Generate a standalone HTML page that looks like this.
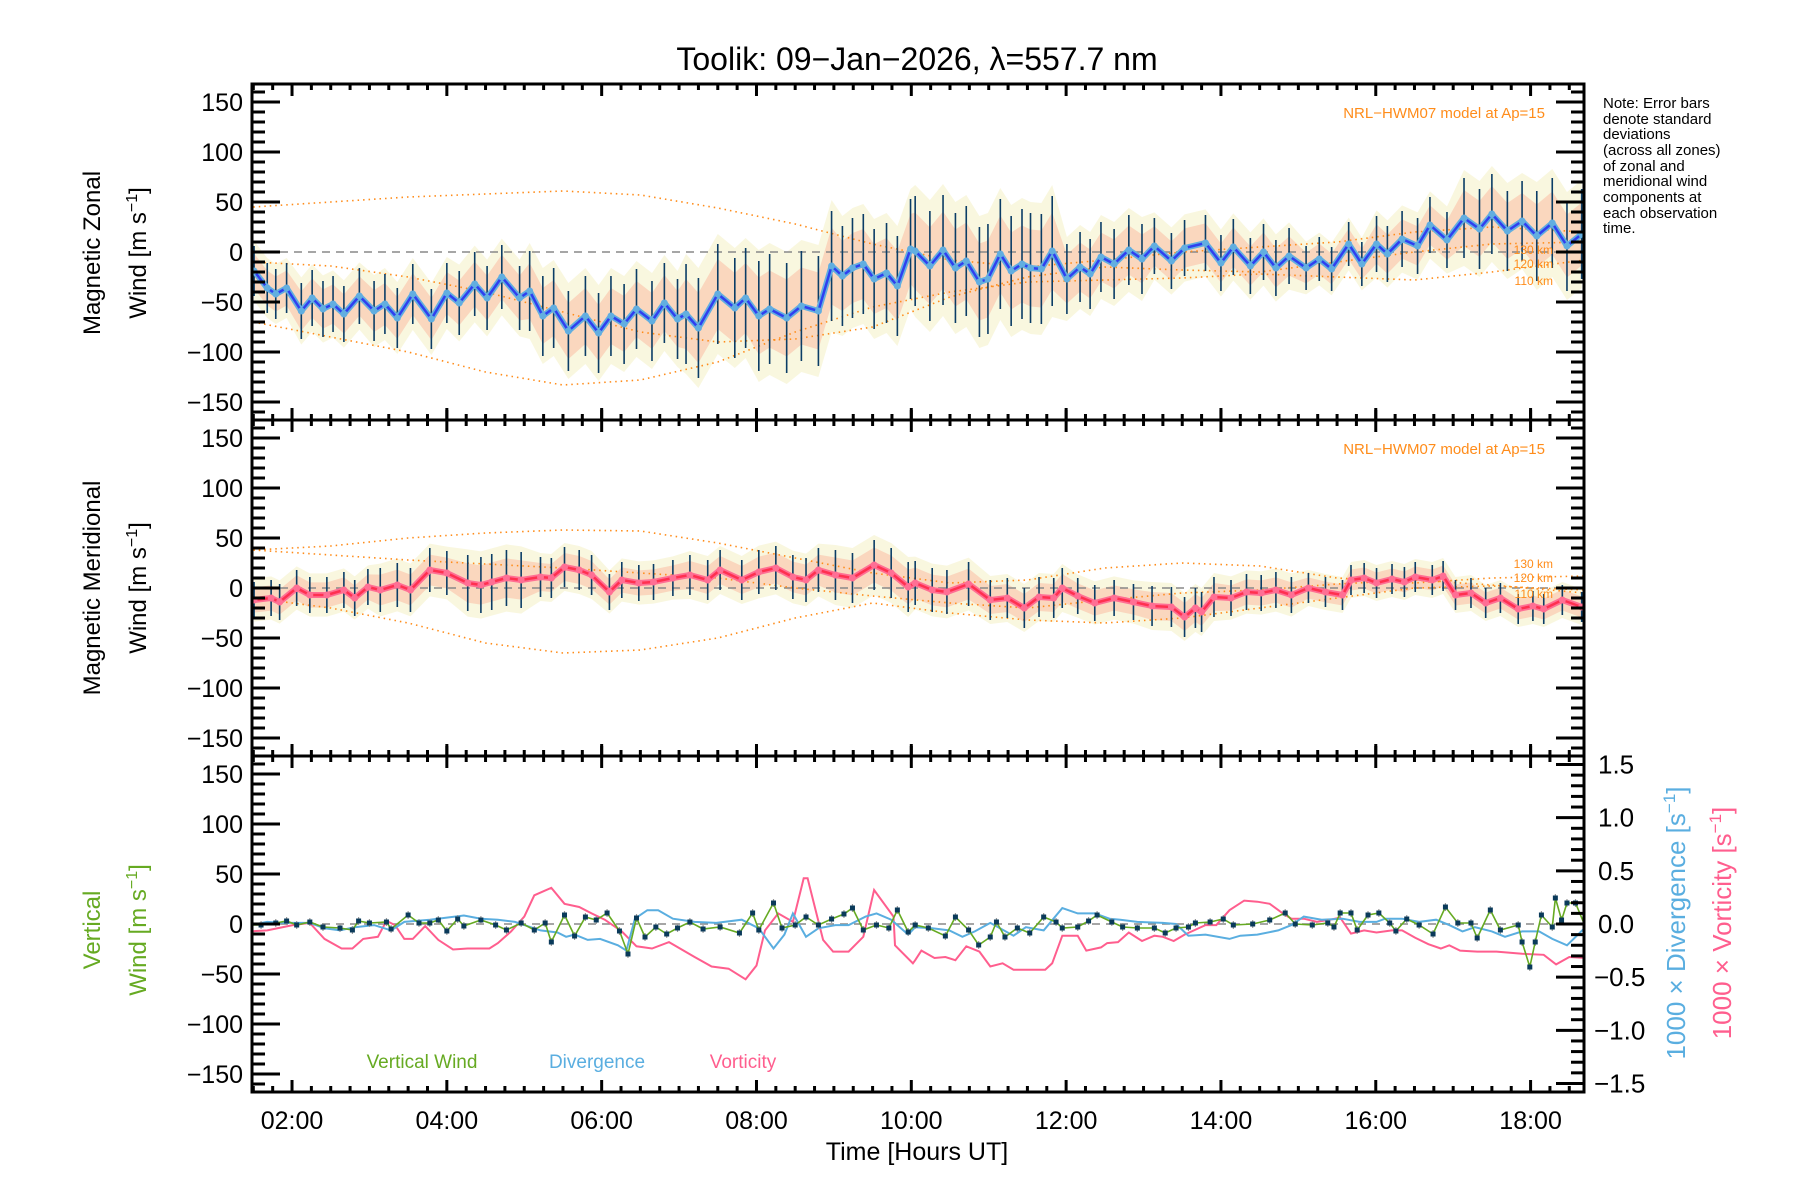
<!DOCTYPE html>
<html><head><meta charset="utf-8"><title>Toolik winds</title>
<style>
html,body{margin:0;padding:0;background:#fff;}
svg{display:block;font-family:"Liberation Sans",sans-serif;}
</style></head>
<body>
<svg id="chart" xmlns="http://www.w3.org/2000/svg" width="1800" height="1200" viewBox="0 0 1800 1200">
<rect x="0" y="0" width="1800" height="1200" fill="#fff"/>
<text x="917" y="70" font-size="32" text-anchor="middle">Toolik: 09−Jan−2026, λ=557.7 nm</text>
<g id="marks"></g>
<g id="axes"></g>
<text x="917" y="1160" font-size="25" text-anchor="middle">Time [Hours UT]</text>
<g font-size="15">
<text x="1603" y="108">Note: Error bars</text>
<text x="1603" y="124">denote standard</text>
<text x="1603" y="139">deviations</text>
<text x="1603" y="155">(across all zones)</text>
<text x="1603" y="171">of zonal and</text>
<text x="1603" y="186">meridional wind</text>
<text x="1603" y="202">components at</text>
<text x="1603" y="218">each observation</text>
<text x="1603" y="233">time.</text>
</g>
<g font-size="24" text-anchor="middle">
<text transform="translate(100,253) rotate(-90)">Magnetic Zonal</text>
<text transform="translate(146,253) rotate(-90)">Wind [m s<tspan dy="-9" font-size="16">−1</tspan><tspan dy="9">]</tspan></text>
</g>
<g font-size="24" text-anchor="middle">
<text transform="translate(100,588) rotate(-90)">Magnetic Meridional</text>
<text transform="translate(146,588) rotate(-90)">Wind [m s<tspan dy="-9" font-size="16">−1</tspan><tspan dy="9">]</tspan></text>
</g>
<g font-size="24" text-anchor="middle" fill="#66aa22">
<text transform="translate(100,930) rotate(-90)">Vertical</text>
<text transform="translate(146,930) rotate(-90)">Wind [m s<tspan dy="-9" font-size="16">−1</tspan><tspan dy="9">]</tspan></text>
</g>
<text transform="translate(1685,923) rotate(-90)" font-size="26" text-anchor="middle" fill="#5aaee0">1000 × Divergence [s<tspan dy="-10" font-size="17">−1</tspan><tspan dy="10">]</tspan></text>
<text transform="translate(1731,923) rotate(-90)" font-size="26" text-anchor="middle" fill="#ff5e8e">1000 × Vorticity [s<tspan dy="-10" font-size="17">−1</tspan><tspan dy="10">]</tspan></text>
<text x="1545" y="118" font-size="15" text-anchor="end" fill="#ff8c1a">NRL−HWM07 model at Ap=15</text>
<text x="1545" y="454" font-size="15" text-anchor="end" fill="#ff8c1a">NRL−HWM07 model at Ap=15</text>
<g font-size="12" fill="#ff8c1a" text-anchor="end">
<text x="1553" y="254">130 km</text><text x="1553" y="268">120 km</text><text x="1553" y="285">110 km</text>
</g>
<g font-size="12" fill="#ff8c1a" text-anchor="end">
<text x="1553" y="568">130 km</text><text x="1553" y="582">120 km</text><text x="1553" y="598">110 km</text>
</g>
<text x="422" y="1068" font-size="19" fill="#66aa22" text-anchor="middle">Vertical Wind</text>
<text x="597" y="1068" font-size="19" fill="#5aaee0" text-anchor="middle">Divergence</text>
<text x="743" y="1068" font-size="19" fill="#ff5e8e" text-anchor="middle">Vorticity</text>
</svg>
<script>
// ---------- data ----------
const zonalT = [1.51,1.68,1.79,1.93,2.12,2.26,2.40,2.53,2.67,2.87,3.06,3.20,3.36,3.56,3.80,4.00,4.16,4.36,4.52,4.71,4.94,5.07,5.24,5.38,5.57,5.79,5.96,6.12,6.29,6.45,6.65,6.81,6.98,7.09,7.25,7.50,7.72,7.86,8.03,8.17,8.39,8.58,8.80,8.97,9.11,9.24,9.38,9.52,9.68,9.82,9.99,
10.05,10.24,10.41,10.57,10.71,10.88,10.99,11.15,11.29,11.43,11.54,11.68,11.82,12.01,12.18,12.31,12.45,12.62,12.81,12.98,13.14,13.36,13.53,13.80,14.0,14.16,14.38,14.55,14.71,14.88,15.10,15.27,15.43,15.65,15.82,16.01,16.15,16.34,16.54,16.70,16.92,17.14,17.34,17.50,17.70,17.89,18.08,18.28,18.47,18.66];
const zonalV = [-19,-36,-42,-36,-59,-46,-57,-52,-62,-44,-59,-52,-66,-42,-67,-41,-51,-32,-46,-25,-46,-39,-64,-56,-79,-64,-81,-64,-72,-57,-69,-51,-67,-62,-76,-42,-56,-46,-64,-57,-66,-54,-59,-14,-24,-16,-12,-27,-21,-34,3,
1,-14,2,-16,-9,-30,-27,-2,-19,-12,-16,-17,1,-27,-15,-22,-5,-12,2,-7,6,-9,4,9,-11,5,-14,0,-16,-4,-16,-7,-17,8,-12,8,-2,13,6,27,12,34,23,38,21,31,16,29,6,18];
const stdHours = [1.5,2.5,3.5,4.5,5.5,6.5,7.5,8.5,9.5,10.5,11.5,12.5,13.5,14.5,15.5,16.5,17.5,18.5];
const zonalStd = [25,28,30,32,40,40,50,55,50,55,55,35,28,28,22,28,40,45];
const meridT = [1.51,1.73,1.84,2.06,2.23,2.45,2.67,2.81,2.98,3.14,3.36,3.53,3.78,4.0,4.27,4.44,4.58,4.77,4.96,5.21,5.35,5.52,5.71,5.87,6.10,6.26,6.48,6.67,6.92,7.14,7.37,7.53,7.81,8.03,8.25,8.47,8.64,8.80,9.02,9.24,9.52,9.74,9.96,
10.05,10.27,10.46,10.74,11.02,11.24,11.46,11.65,11.84,11.95,12.15,12.37,12.62,12.87,13.11,13.36,13.53,13.67,13.75,13.91,14.13,14.33,14.52,14.71,14.91,15.13,15.35,15.57,15.68,15.85,16.01,16.21,16.37,16.51,16.73,16.87,17.03,17.23,17.42,17.61,17.84,18.03,18.17,18.41,18.66];
const meridV = [-12,-10,-14,0,-7,-7,-2,-10,1,-2,3,-2,18,15,5,3,6,10,8,11,10,21,18,13,-4,8,5,6,10,13,8,18,8,16,20,11,8,18,13,10,23,15,1,
5,-2,-4,4,-12,-10,-20,-9,-10,0,-8,-15,-10,-14,-18,-19,-29,-20,-24,-9,-10,-4,-5,-2,-7,0,-4,-7,8,10,5,9,6,11,8,12,-7,-5,-15,-10,-21,-18,-21,-12,-19];
const meridStd = [18,18,22,28,20,18,20,22,25,22,20,18,20,18,15,15,15,15];
const modelT = [1.5,2.5,3.5,4.5,5.5,6.5,7.5,8.5,9.5,10.5,11.5,12.5,13.5,14.5,15.5,16.5,17.5,18.7];
const zonalModel130 = [45,50,55,58,61,57,44,28,8,-8,-15,-8,0,5,10,20,25,20];
const zonalModel120 = [-10,-14,-25,-40,-60,-80,-90,-87,-75,-45,-25,-15,-18,-20,-10,0,8,10];
const zonalModel110 = [-70,-85,-100,-120,-133,-128,-110,-80,-55,-40,-30,-28,-26,-22,-25,-28,-20,-8];
const meridModel130 = [38,42,50,55,58,57,45,30,15,5,8,20,25,22,10,5,10,12];
const meridModel120 = [38,33,28,24,20,15,10,0,-8,-15,-20,-12,-5,-2,4,8,3,-5];
const meridModel110 = [-10,-20,-35,-55,-65,-62,-50,-30,-15,-25,-32,-35,-30,-20,-10,0,2,-2];
const vertT = [1.46,1.60,1.79,1.93,2.06,2.23,2.40,2.62,2.78,2.86,3.00,3.22,3.28,3.50,3.64,3.78,3.89,4.0,4.14,4.22,4.44,4.63,4.77,4.96,5.13,5.27,5.35,5.52,5.65,5.79,5.93,6.07,6.23,6.34,6.45,6.56,6.70,6.84,6.98,7.14,7.31,7.53,7.78,7.95,8.03,8.22,8.33,8.50,8.64,8.80,8.97,9.13,9.24,9.38,9.55,9.71,9.82,9.96,
10.05,10.22,10.44,10.57,10.74,10.87,11.02,11.10,11.21,11.37,11.53,11.71,11.87,11.95,12.15,12.29,12.40,12.59,12.73,12.92,13.14,13.28,13.42,13.58,13.67,13.86,14.03,14.16,14.41,14.63,14.83,14.96,15.18,15.38,15.46,15.54,15.68,15.76,15.90,16.04,16.18,16.26,16.40,16.56,16.74,16.90,17.06,17.23,17.31,17.48,17.61,17.84,17.89,17.99,18.06,18.14,18.28,18.32,18.40,18.47,18.58,18.71];
const vertV = [-1,-1,1,3,-1,2,-3,-4,-6,3,1,2,-5,9,1,1,4,-7,5,-2,4,-1,-6,1,-6,1,-18,9,-12,7,4,11,-7,-30,6,-13,-3,-10,-4,2,-5,-3,-9,11,-6,21,-4,-1,7,-1,5,10,16,-6,-1,-4,14,-8,
-1,-4,-12,7,-6,-21,-13,2,-13,-4,-9,7,2,-4,-3,3,9,2,-3,-4,-4,-9,-4,-3,1,2,5,-1,0,4,11,0,-1,1,-3,11,11,-6,9,11,1,-7,5,-1,-10,17,1,1,-14,14,-6,-1,-18,-43,-18,9,-3,26,4,21,21,-3];
const divT = [1.46,1.68,1.90,2.23,2.42,2.62,2.81,3.06,3.28,3.45,3.78,4.0,4.22,4.44,4.66,4.88,5.0,5.21,5.43,5.54,5.65,5.82,5.98,6.21,6.32,6.43,6.59,6.73,6.92,7.20,7.48,7.81,8.03,8.22,8.36,8.47,8.64,8.80,9.02,9.19,9.41,9.55,9.74,9.96,
10.05,10.27,10.49,10.66,10.82,11.02,11.32,11.48,11.71,11.95,12.15,12.37,12.56,12.70,12.92,13.25,13.42,13.58,13.80,14.11,14.25,14.47,14.74,14.91,15.07,15.30,15.57,15.79,16.01,16.12,16.34,16.56,16.78,16.95,17.12,17.28,17.50,17.67,17.89,18.11,18.28,18.47,18.71];
const divV = [-0.01,0.02,0.01,0.01,-0.04,-0.06,-0.03,-0.01,-0.06,0.02,0.04,0.06,0.08,0.05,0.04,0.02,-0.01,-0.06,-0.08,-0.12,-0.10,-0.15,-0.14,-0.20,-0.25,0.05,0.13,0.13,0.05,0.02,0.01,0.04,-0.04,-0.23,-0.10,0.10,-0.12,-0.04,-0.01,-0.01,0.07,0.10,0.04,-0.10,
-0.03,-0.04,-0.06,-0.12,-0.07,0.01,-0.11,-0.03,-0.06,0.15,0.10,0.10,0.05,0.04,0.02,0.01,0,-0.11,-0.10,-0.14,-0.11,-0.10,-0.06,-0.01,0.07,0.04,0.05,0.02,0.02,0.05,0.05,0.02,0.04,-0.01,-0.07,-0.03,-0.07,-0.12,-0.07,-0.07,-0.14,-0.20,-0.03];
const vortT = [1.46,1.68,2.01,2.23,2.42,2.64,2.78,2.92,3.11,3.22,3.33,3.45,3.56,3.72,3.89,4.08,4.27,4.55,4.66,4.83,5.0,5.13,5.35,5.52,5.71,5.87,6.04,6.26,6.45,6.65,6.87,7.20,7.42,7.64,7.86,8.0,8.11,8.28,8.47,8.61,8.66,8.86,8.99,9.19,9.38,9.52,9.77,9.79,10.02,
10.05,10.13,10.30,10.44,10.57,10.71,10.88,11.02,11.18,11.32,11.43,11.54,11.73,11.82,11.95,12.15,12.26,12.45,12.53,12.67,12.81,12.98,13.14,13.25,13.39,13.53,13.80,13.94,14.11,14.30,14.47,14.63,14.80,14.91,15.07,15.24,15.41,15.54,15.68,15.85,16.01,16.21,16.34,16.51,16.68,16.84,16.95,17.09,17.31,17.56,17.89,18.17,18.33,18.50,18.71];
const vortV = [-0.07,-0.06,-0.01,0.01,-0.14,-0.23,-0.23,-0.14,-0.12,0.03,-0.01,-0.14,-0.14,-0.02,-0.15,-0.24,-0.23,-0.23,-0.18,-0.07,0.07,0.27,0.34,0.19,0.16,0.10,0.04,-0.07,-0.21,-0.23,-0.17,-0.31,-0.40,-0.42,-0.52,-0.39,-0.06,0.10,0.02,0.43,0.43,-0.15,-0.26,-0.26,-0.12,0.32,0.07,-0.20,-0.37,
-0.34,-0.25,-0.32,-0.31,-0.34,-0.21,-0.26,-0.40,-0.37,-0.43,-0.43,-0.43,-0.43,-0.37,-0.11,-0.11,-0.25,-0.22,-0.18,-0.17,-0.08,-0.16,-0.11,-0.12,-0.16,-0.10,-0.01,-0.01,0.13,0.22,0.21,0.19,0.10,0.05,0.05,0.02,0.04,0.06,-0.09,-0.06,-0.08,-0.06,-0.06,-0.13,-0.19,-0.23,-0.20,-0.25,-0.26,-0.26,-0.28,-0.29,-0.38,-0.31,-0.32];
const xTickHours = [2,4,6,8,10,12,14,16,18];
const xTickLabels = ['02:00','04:00','06:00','08:00','10:00','12:00','14:00','16:00','18:00'];
const yTickValues = [-150,-100,-50,0,50,100,150];
const yTickLabels = ['−150','−100','−50','0','50','100','150'];
const rTickValues = [-1.5,-1,-0.5,0,0.5,1,1.5];
const rTickLabels = ['−1.5','−1.0','−0.5','0.0','0.5','1.0','1.5'];

// ---------- geometry ----------
const NS = 'http://www.w3.org/2000/svg';
const X0 = 252, X1 = 1584, T0 = 1.483, T1 = 18.69;
const PANEL_H = 336, YMAX = 168;
const panelTops = [84, 420, 756];
function xs(t) { return X0 + (t - T0) / (T1 - T0) * (X1 - X0); }
function ys(p, v) { return panelTops[p] + (YMAX - v) / (2 * YMAX) * PANEL_H; }
function yr(v) { return panelTops[2] + PANEL_H / 2 - v / 1.58 * (PANEL_H / 2); }
const marks = document.getElementById('marks');
const axes = document.getElementById('axes');
function mk(tag, attrs, parent) {
  const e = document.createElementNS(NS, tag);
  for (const k in attrs) e.setAttribute(k, attrs[k]);
  (parent || marks).appendChild(e);
  return e;
}
function stdAt(arr, t) {
  let best = 0, bd = 1e9;
  for (let i = 0; i < stdHours.length; i++) { const d = Math.abs(stdHours[i] - t); if (d < bd) { bd = d; best = i; } }
  return arr[best];
}
function pts(T, V, fy) {
  const n = Math.min(T.length, V.length); const a = [];
  for (let i = 0; i < n; i++) a.push(xs(T[i]).toFixed(1) + ',' + fy(V[i]).toFixed(1));
  return a.join(' ');
}
const defs = mk('defs', {});
[0,1,2].forEach(p => {
  const c = mk('clipPath', {id: 'clip' + p}, defs);
  mk('rect', {x: X0, y: panelTops[p], width: X1 - X0, height: PANEL_H}, c);
});

function windPanel(p, T, V, S, models, bandA, bandB, lineOuter, lineInner, name) {
  const g = mk('g', {'clip-path': 'url(#clip' + p + ')'});
  
  
  const n = Math.min(T.length, V.length);
  [[1.2, bandB], [0.7, bandA]].forEach(([k, col]) => {
    const up = [], dn = [];
    for (let i = 0; i < n; i++) {
      const s = stdAt(S, T[i]) * k;
      up.push(xs(T[i]).toFixed(1) + ',' + ys(p, V[i] + s).toFixed(1));
      dn.unshift(xs(T[i]).toFixed(1) + ',' + ys(p, V[i] - s).toFixed(1));
    }
    const b = mk('polygon', {points: up.concat(dn).join(' '), fill: col, stroke: 'none'}, g);
    
    
  });
  const z = mk('line', {x1: X0, x2: X1, y1: ys(p, 0), y2: ys(p, 0), stroke: '#888', 'stroke-width': 1.5, 'stroke-dasharray': '8,6'}, g);
  
  
  models.forEach((m, j) => {
    const l = mk('polyline', {points: pts(modelT, m, v => ys(p, v)), fill: 'none', stroke: '#ff8c1a', 'stroke-width': 1.6, 'stroke-dasharray': '1.5,4'}, g);
    
    
  });
  for (let i = 0; i < n; i++) {
    const s = stdAt(S, T[i]);
    const b = mk('line', {x1: xs(T[i]), x2: xs(T[i]), y1: ys(p, V[i] - s), y2: ys(p, V[i] + s), stroke: '#0b3d66', 'stroke-width': 1.6}, g);
    
    
  }
  const o = mk('polyline', {points: pts(T, V, v => ys(p, v)), fill: 'none', stroke: lineOuter, 'stroke-width': 6, 'stroke-linejoin': 'round'}, g);
  
  
  const l = mk('polyline', {points: pts(T, V, v => ys(p, v)), fill: 'none', stroke: lineInner, 'stroke-width': 2.5, 'stroke-linejoin': 'round'}, g);
  
  
  for (let i = 0; i < n; i++) {
    const d = mk('circle', {cx: xs(T[i]), cy: ys(p, V[i]), r: 3.5, fill: lineOuter}, g);
    
    
  }
}
windPanel(0, zonalT, zonalV, zonalStd, [zonalModel130, zonalModel120, zonalModel110], 'rgba(250,175,150,0.45)', 'rgba(240,235,170,0.38)', '#62aee0', '#2f3ff0', 'zonal');
windPanel(1, meridT, meridV, meridStd, [meridModel130, meridModel120, meridModel110], 'rgba(250,175,150,0.45)', 'rgba(240,235,170,0.38)', '#ff6f94', '#ff3050', 'meridional');

const g3 = mk('g', {'clip-path': 'url(#clip2)'});


const z3 = mk('line', {x1: X0, x2: X1, y1: ys(2, 0), y2: ys(2, 0), stroke: '#888', 'stroke-width': 1.5, 'stroke-dasharray': '8,6'}, g3);


const vo = mk('polyline', {points: pts(vortT, vortV, yr), fill: 'none', stroke: '#ff5e8e', 'stroke-width': 2}, g3);


const dv = mk('polyline', {points: pts(divT, divV, yr), fill: 'none', stroke: '#5aaee0', 'stroke-width': 2}, g3);


for (let i = 0; i < Math.min(vertT.length, vertV.length); i++) {
  const e = mk('line', {x1: xs(vertT[i]), x2: xs(vertT[i]), y1: ys(2, vertV[i] - 4), y2: ys(2, vertV[i] + 4), stroke: '#999', 'stroke-width': 1.2}, g3);
  
  
}
const vw = mk('polyline', {points: pts(vertT, vertV, v => ys(2, v)), fill: 'none', stroke: '#66aa22', 'stroke-width': 1.6}, g3);


for (let i = 0; i < Math.min(vertT.length, vertV.length); i++) {
  const s = mk('rect', {x: xs(vertT[i]) - 2.5, y: ys(2, vertV[i]) - 2.5, width: 5, height: 5, fill: '#0a3a5a'}, g3);
  
  
}

// ---------- axes ----------
[0,1,2].forEach(p => {
  const top = panelTops[p], bot = top + PANEL_H;
  const fr = mk('rect', {x: X0, y: top, width: X1 - X0, height: PANEL_H, fill: 'none', stroke: '#000', 'stroke-width': 3}, axes);
  
  
  for (let v = -160; v <= 160; v += 10) {
    const major = v % 50 === 0;
    const len = major ? 28 : 13;
    const y = ys(p, v);
    const t = mk('line', {x1: X0, x2: X0 + len, y1: y, y2: y, stroke: '#000', 'stroke-width': 3}, axes);
    
    
    if (p < 2) {
      const t2 = mk('line', {x1: X1, x2: X1 - len, y1: y, y2: y, stroke: '#000', 'stroke-width': 3}, axes);
      
      
    }
  }
  yTickValues.forEach((v, i) => {
    const tx = mk('text', {x: 243, y: ys(p, v) + 9, 'font-size': 25, 'text-anchor': 'end'}, axes);
    tx.textContent = yTickLabels[i];
    
    
  });
  for (let q = Math.ceil(T0 * 4); q <= Math.floor(T1 * 4); q++) {
    const h = q / 4, major = q % 8 === 0;
    const len = major ? 12 : 6, x = xs(h);
    [[top, top + len], [bot, bot - len]].forEach(([a, b]) => {
      const t = mk('line', {x1: x, x2: x, y1: a, y2: b, stroke: '#000', 'stroke-width': 3}, axes);
      
      
    });
    if (major && p > 0) {
      const t = mk('line', {x1: x, x2: x, y1: top, y2: top - 10, stroke: '#000', 'stroke-width': 3}, axes);
      
      
    }
  }
});
for (let k = -15; k <= 15; k++) {
  const v = k / 10, major = k % 5 === 0;
  const len = major ? 28 : 13, y = yr(v);
  const t = mk('line', {x1: X1, x2: X1 - len, y1: y, y2: y, stroke: '#000', 'stroke-width': 3}, axes);
  
  
}
rTickValues.forEach((v, i) => {
  const tx = mk('text', {x: v < 0 ? 1594 : 1598, y: yr(v) + 9, 'font-size': 26}, axes);
  tx.textContent = rTickLabels[i];
  
  
});
xTickHours.forEach((h, i) => {
  const tx = mk('text', {x: xs(h), y: 1129, 'font-size': 25, 'text-anchor': 'middle'}, axes);
  tx.textContent = xTickLabels[i];
  
  
});
</script>
</body></html>
